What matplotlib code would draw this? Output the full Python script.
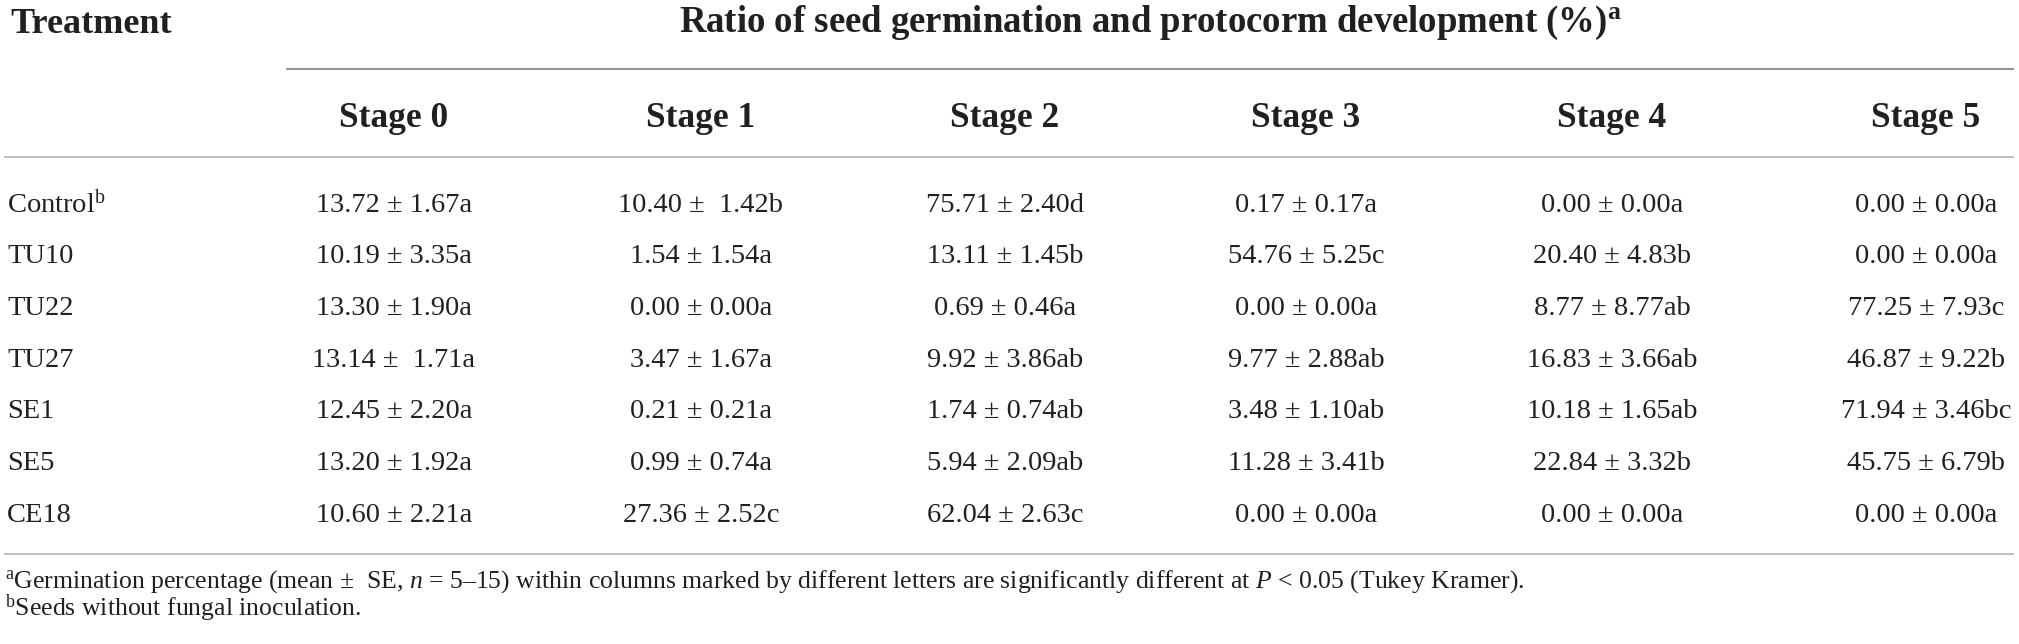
import matplotlib
matplotlib.use("Agg")
import matplotlib.pyplot as plt

# data
# ====
treatments = ["Control", "TU10", "TU22", "TU27", "SE1", "SE5", "CE18"]
stages     = ["Stage 0", "Stage 1", "Stage 2", "Stage 3", "Stage 4", "Stage 5"]

mean = [
    [13.72, 10.19, 13.30, 13.14, 12.45, 13.20, 10.60],
    [10.40,  1.54,  0.00,  3.47,  0.21,  0.99, 27.36],
    [75.71, 13.11,  0.69,  9.92,  1.74,  5.94, 62.04],
    [ 0.17, 54.76,  0.00,  9.77,  3.48, 11.28,  0.00],
    [ 0.00, 20.40,  8.77, 16.83, 10.18, 22.84,  0.00],
    [ 0.00,  0.00, 77.25, 46.87, 71.94, 45.75,  0.00],
]
se = [
    [1.67, 3.35, 1.90, 1.71, 2.20, 1.92, 2.21],
    [1.42, 1.54, 0.00, 1.67, 0.21, 0.74, 2.52],
    [2.40, 1.45, 0.46, 3.86, 0.74, 2.09, 2.63],
    [0.17, 5.25, 0.00, 2.88, 1.10, 3.41, 0.00],
    [0.00, 4.83, 8.77, 3.66, 1.65, 3.32, 0.00],
    [0.00, 0.00, 7.93, 9.22, 3.46, 6.79, 0.00],
]
letters = [
    ["a", "a", "a", "a", "a", "a", "a"],
    ["b", "a", "a", "a", "a", "a", "c"],
    ["d", "b", "a", "ab", "ab", "ab", "c"],
    ["a", "c", "a", "ab", "ab", "b", "a"],
    ["a", "b", "ab", "ab", "ab", "b", "a"],
    ["a", "a", "c", "b", "bc", "b", "a"],
]
wide_gap = [(1, 0), (0, 3)]      # (stage, row) cells typeset with a double space

title    = "Ratio of seed germination and protocorm development (%)"
note_a   = (r"Germination percentage (mean $\pm$  SE, $n$ = 5–15) within columns "
            r"marked by different letters are significantly different at "
            r"$P$ < 0.05 (Tukey Kramer).")
note_b   = "Seeds without fungal inoculation."

# style
# =====
W, H     = 2019, 644
INK      = "#231f20"
FONT     = "Liberation Serif"
col_x    = [394, 701, 1005, 1306, 1612, 1926]
row_y    = [212, 263, 315, 367, 418, 470, 522]
plt.rcParams["font.family"] = FONT
plt.rcParams["mathtext.fontset"] = "custom"
plt.rcParams["mathtext.rm"] = FONT
plt.rcParams["mathtext.it"] = FONT + ":italic"
plt.rcParams["mathtext.bf"] = FONT + ":bold"

fig = plt.figure(figsize=(W / 100, H / 100), dpi=100)
ax  = fig.add_axes([0, 0, 1, 1])
ax.set_xlim(0, W); ax.set_ylim(H, 0); ax.axis("off")

# rules
ax.plot([287, 2013], [68.5, 68.5], color="#8a8a8a", lw=1.3)
ax.plot([5, 2013], [157, 157], color="#b8b8b8", lw=1.3)
ax.plot([5, 2013], [554, 554], color="#b8b8b8", lw=1.3)

# headers
ax.text(10, 33, "Treatment", fontsize=26, fontweight="bold", color=INK,
        va="baseline", ha="left")
ax.text(1150, 32, title + r"$^{\mathbf{a}}$", fontsize=26.5, fontweight="bold",
        color=INK, va="baseline", ha="center")
for x, s in zip(col_x, stages):
    ax.text(x, 127, s, fontsize=25.5, fontweight="bold", color=INK,
            va="baseline", ha="center")

# body
for j, (t, y) in enumerate(zip(treatments, row_y)):
    lab = t + r"$^{\mathrm{b}}$" if t == "Control" else t
    ax.text(7, y, lab, fontsize=20.5, color=INK, va="baseline", ha="left")
    for i, x in enumerate(col_x):
        gap = "  " if (i, j) in wide_gap else " "
        s = f"{mean[i][j]:.2f} ±{gap}{se[i][j]:.2f}{letters[i][j]}"
        ax.text(x, y, s, fontsize=20.5, color=INK, va="baseline", ha="center")

# footnotes
ax.text(5, 588, r"$^{\mathrm{a}}$" + note_a, fontsize=18.5, color=INK,
        va="baseline", ha="left")
ax.text(5, 616, r"$^{\mathrm{b}}$" + note_b, fontsize=18.5, color=INK,
        va="baseline", ha="left")

fig.savefig("out.png", dpi=100, facecolor="white")
